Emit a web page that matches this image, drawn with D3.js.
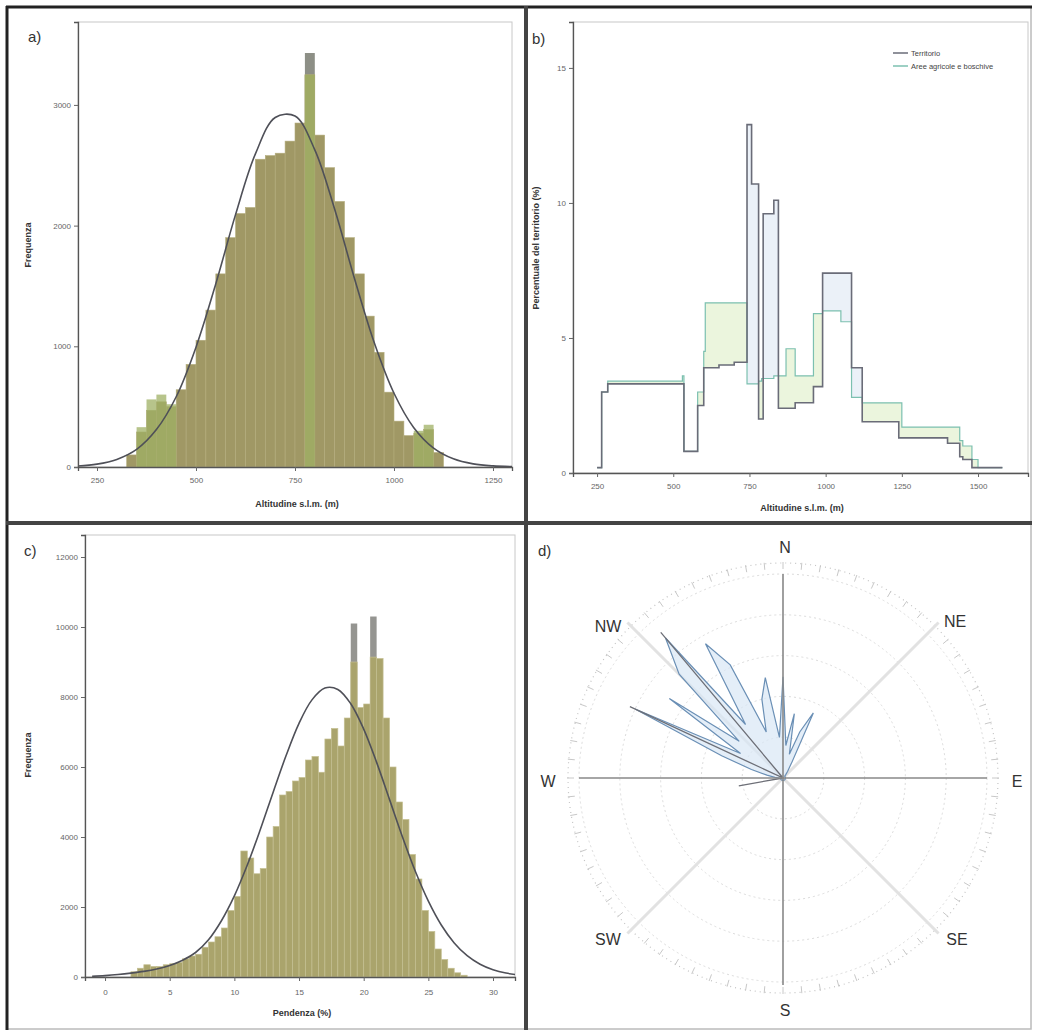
<!DOCTYPE html>
<html><head><meta charset="utf-8">
<script src="https://cdn.jsdelivr.net/npm/d3@7"></script>
<style>
html,body{margin:0;padding:0;background:#fff;}
svg{display:block;font-family:"Liberation Sans",Arial,sans-serif;}
</style></head>
<body>
<svg id="chart" width="1037" height="1034"></svg>
<script>
// ---------------- DATA ----------------
// Panel a: altitude histogram (bins of 25 m)
const aBinWidth = 25;
const aBinStart = [325,350,375,400,425,450,475,500,525,550,575,600,625,650,675,700,725,750,775,800,825,850,875,900,925,950,975,1000,1025,1050,1075,1100];
const aCounts   = [100,290,470,540,500,640,850,1050,1300,1600,1900,2100,2150,2550,2580,2600,2700,2850,3250,2750,2480,2200,1900,1600,1250,950,620,380,260,280,310,120];
const aGreenBins   = [350,375,400,425,775,1050,1075];
const aGreenCounts = [330,560,600,520,3250,300,350];
const aGrayBins    = [775];
const aGrayCounts  = [3430];
const aCurveX = [200,250,300,350,400,450,500,550,600,650,700,750,800,850,900,950,1000,1050,1100,1150,1200,1250,1300];
const aCurveY = [8,24,63,146,310,582,993,1518,2093,2594,2896,2908,2628,2137,1564,1031,611,326,157,68,26,9,3];
const aXTicks = [250,500,750,1000,1250];
const aYTicks = [0,1000,2000,3000];

// Panel b: two stepped series (altitude breakpoints)
const bAlt     = [250,265,285,530,535,580,600,605,650,700,742,757,780,790,795,830,845,870,900,960,990,1050,1085,1120,1240,1250,1400,1440,1450,1480,1500,1580];
const bTerr    = [0.2,3.0,3.3,3.3,0.8,2.5,3.9,3.9,4.0,4.1,12.9,10.7,2.0,2.0,9.6,10.1,2.4,2.4,2.6,3.2,7.4,7.4,3.9,1.9,1.3,1.3,1.1,0.6,0.5,0.2,0.2,0.2];
const bAgri    = [0.2,3.0,3.4,3.6,0.8,3.0,4.5,6.3,6.3,6.3,3.3,3.3,3.4,3.5,3.5,3.6,3.6,4.6,3.6,5.9,6.0,5.6,2.8,2.6,2.6,1.7,1.7,1.2,1.0,0.5,0.2,0.2];
const bXTicks = [250,500,750,1000,1250,1500];
const bYTicks = [0,5,10,15];
const bLegend = ["Territorio","Aree agricole e boschive"];

// Panel c: slope histogram (bins of 0.5)
const cBinWidth = 0.5;
const cBinStart = [2,2.5,3,3.5,4,4.5,5,5.5,6,6.5,7,7.5,8,8.5,9,9.5,10,10.5,11,11.5,12,12.5,13,13.5,14,14.5,15,15.5,16,16.5,17,17.5,18,18.5,19,19.5,20,20.5,21,21.5,22,22.5,23,23.5,24,24.5,25,25.5,26,26.5,27,27.5];
const cCounts   = [150,250,350,300,300,350,380,420,520,600,650,850,1000,1150,1400,1900,2300,3600,3400,2950,3100,4000,4300,5200,5300,5600,5700,6200,6300,5850,6800,7100,6600,7400,9000,7700,7800,9140,9100,7400,6000,5000,4500,3500,2800,1900,1300,800,500,250,120,50];
const cGrayBins   = [19,20.5];
const cGrayCounts = [10100,10300];
const cCurveX = [-1,0,1,2,3,4,5,6,7,8,9,10,11,12,13,14,15,16,17,18,19,20,21,22,23,24,25,26,27,28,29,30,31,32];
const cCurveY = [20,40,70,110,160,230,330,480,700,1064,1608,2317,3198,4207,5281,6328,7249,7918,8255,8217,7808,7083,6132,5068,4000,3013,2168,1487,974,609,364,207,112,59];
const cXTicks = [0,5,10,15,20,25,30];
const cYTicks = [0,2000,4000,6000,8000,10000,12000];

// Panel d: polar plot by bearing (degrees)
const dBearing = d3.range(0,360,5);
const dBlue = [12.4,4,8,3,6,8.8,2,1,0.5,0.3,0.3,0.3,0.3,0.3,0.3,0.3,0.3,0.3,0.3,0.3,0.3,0.3,0.3,0.3,0.3,0.3,0.3,0.3,0.3,0.3,0.3,0.3,0.3,0.3,0.3,0.3,0.3,0.3,0.3,0.3,0.3,0.3,0.3,0.3,0.3,0.3,0.3,0.3,0.3,0.3,0.3,0.3,0.3,0.3,0.5,1,2,4,8,20,6,17,7,18,22.4,8,19,15.3,6,10,12.5,5];
const dGray = [0,0,0,0,0,0,0,0,0,0,0,0,0,0,0,0,0,0,0,0,0,0,0,0,0,0,0,0,0,0,0,0,0,0,0,0,0,0,0,0,0,0,0,0,0,0,0,0,0,0,0,0,5.5,0,0,0,0,0,0,20.7,0,0,0,0,23.3,0,0,0,0,0,0,0];
const dRings = [5,10,15,20,25];
const dLabels = [["N",0],["NE",45],["E",90],["SE",135],["S",180],["SW",225],["W",270],["NW",315]];

// ---------------- DRAW ----------------
const svg = d3.select("#chart");
const FONT = "'Liberation Sans', Arial, sans-serif";
const fmt = d3.format("d");

// frame and dividers
svg.append("rect").attr("x",7).attr("y",7).attr("width",1024).attr("height",1022)
  .attr("fill","none").attr("stroke","#bbb").attr("stroke-width",1.5);
svg.append("line").attr("x1",6).attr("x2",1032).attr("y1",7).attr("y2",7).attr("stroke","#222").attr("stroke-width",3);
svg.append("line").attr("x1",7).attr("x2",7).attr("y1",6).attr("y2",1030).attr("stroke","#222").attr("stroke-width",3);
svg.append("line").attr("x1",526).attr("x2",526).attr("y1",6).attr("y2",1030).attr("stroke","#444").attr("stroke-width",4);
svg.append("line").attr("x1",6).attr("x2",1032).attr("y1",523).attr("y2",523).attr("stroke","#444").attr("stroke-width",4);

function panelLabel(t,x,y){
  svg.append("text").attr("x",x).attr("y",y).text(t).attr("font-size",15).attr("fill","#333").attr("font-family",FONT);
}
function styleAxis(g){
  g.selectAll("text").attr("font-size",8).attr("fill","#666").attr("font-family",FONT);
  g.selectAll("line").attr("stroke","#666");
  g.selectAll("path").attr("stroke","#555").attr("stroke-width",1.3);
}
function frame(x0,y0,x1,y1){
  svg.append("rect").attr("x",x0).attr("y",y0).attr("width",x1-x0).attr("height",y1-y0)
    .attr("fill","none").attr("stroke","#c8c8c8").attr("stroke-width",1);
}
function clip(id,x0,y0,x1,y1){
  svg.append("clipPath").attr("id",id).append("rect").attr("x",x0).attr("y",y0).attr("width",x1-x0).attr("height",y1-y0);
}

// ===== Panel a =====
{
  const L=78,R=512,T=22,B=467;
  const x = d3.scaleLinear().domain([202,1298]).range([L,R]);
  const y = d3.scaleLinear().domain([0,3687]).range([B,T]);
  frame(L,T,R,B); clip("clipA",L,T,R,B);
  const g = svg.append("g").attr("clip-path","url(#clipA)");
  g.selectAll("rect.gray").data(aGrayBins).join("rect")
    .attr("x",d=>x(d)).attr("width",d=>x(d+aBinWidth)-x(d))
    .attr("y",(d,i)=>y(aGrayCounts[i])).attr("height",(d,i)=>B-y(aGrayCounts[i])).attr("fill","#8d8f86");
  g.selectAll("rect.bar").data(aBinStart).join("rect")
    .attr("x",d=>x(d)).attr("width",d=>x(d+aBinWidth)-x(d))
    .attr("y",(d,i)=>y(aCounts[i])).attr("height",(d,i)=>B-y(aCounts[i]))
    .attr("fill","#a09865").attr("stroke","#b3ac7c").attr("stroke-width",0.6);
  g.selectAll("rect.green").data(aGreenBins).join("rect")
    .attr("x",d=>x(d)).attr("width",d=>x(d+aBinWidth)-x(d))
    .attr("y",(d,i)=>y(aGreenCounts[i])).attr("height",(d,i)=>B-y(aGreenCounts[i]))
    .attr("fill","#9fb064").attr("opacity",0.75);
  g.append("path").datum(aCurveX)
    .attr("d",d3.line().x(d=>x(d)).y((d,i)=>y(aCurveY[i])).curve(d3.curveCatmullRom))
    .attr("fill","none").attr("stroke","#4f5058").attr("stroke-width",1.6);
  const ax = svg.append("g").attr("transform",`translate(0,${B})`).call(d3.axisBottom(x).tickValues(aXTicks).tickFormat(fmt).tickSize(4).tickPadding(6));
  styleAxis(ax);
  const ay = svg.append("g").attr("transform",`translate(${L},0)`).call(d3.axisLeft(y).tickValues(aYTicks).tickFormat(fmt).tickSize(4));
  styleAxis(ay);
  svg.append("text").attr("x",297).attr("y",507).attr("text-anchor","middle").text("Altitudine s.l.m. (m)")
    .attr("font-size",9).attr("font-weight","bold").attr("fill","#333").attr("font-family",FONT);
  svg.append("text").attr("transform","translate(31,245) rotate(-90)").attr("text-anchor","middle").text("Frequenza")
    .attr("font-size",9).attr("font-weight","bold").attr("fill","#333").attr("font-family",FONT);
  panelLabel("a)",28,42);
}

// ===== Panel b =====
{
  const L=573,R=1028,T=22,B=473;
  const x = d3.scaleLinear().domain([171,1664]).range([L,R]);
  const y = d3.scaleLinear().domain([0,16.7]).range([B,T]);
  frame(L,T,R,B); clip("clipB",L,T,R,B);
  const g = svg.append("g").attr("clip-path","url(#clipB)");
  const idx = d3.range(bAlt.length);
  const areaGreen = d3.area().x(i=>x(bAlt[i])).y0(i=>y(bTerr[i])).y1(i=>y(Math.max(bTerr[i],bAgri[i]))).curve(d3.curveStepAfter);
  const areaBlue  = d3.area().x(i=>x(bAlt[i])).y0(i=>y(bAgri[i])).y1(i=>y(Math.max(bTerr[i],bAgri[i]))).curve(d3.curveStepAfter);
  g.append("path").datum(idx).attr("d",areaGreen).attr("fill","#e6f2d4").attr("opacity",0.8);
  g.append("path").datum(idx).attr("d",areaBlue).attr("fill","#e2ebf5").attr("opacity",0.7);
  g.append("path").datum(idx).attr("d",d3.line().x(i=>x(bAlt[i])).y(i=>y(bAgri[i])).curve(d3.curveStepAfter))
    .attr("fill","none").attr("stroke","#7cc0b0").attr("stroke-width",1.2);
  g.append("path").datum(idx).attr("d",d3.line().x(i=>x(bAlt[i])).y(i=>y(bTerr[i])).curve(d3.curveStepAfter))
    .attr("fill","none").attr("stroke","#6a6c78").attr("stroke-width",1.6);
  const ax = svg.append("g").attr("transform",`translate(0,${B})`).call(d3.axisBottom(x).tickValues(bXTicks).tickFormat(fmt).tickSize(4).tickPadding(6));
  styleAxis(ax);
  const ay = svg.append("g").attr("transform",`translate(${L},0)`).call(d3.axisLeft(y).tickValues(bYTicks).tickFormat(fmt).tickSize(4));
  styleAxis(ay);
  svg.append("text").attr("x",802).attr("y",511).attr("text-anchor","middle").text("Altitudine s.l.m. (m)")
    .attr("font-size",9).attr("font-weight","bold").attr("fill","#333").attr("font-family",FONT);
  svg.append("text").attr("transform","translate(539,248) rotate(-90)").attr("text-anchor","middle").text("Percentuale del territorio (%)")
    .attr("font-size",9).attr("font-weight","bold").attr("fill","#333").attr("font-family",FONT);
  const lg = svg.append("g");
  const lcol = ["#6a6c78","#7cc0b0"];
  bLegend.forEach((t,i)=>{
    lg.append("line").attr("x1",893).attr("x2",908).attr("y1",53+i*13).attr("y2",53+i*13).attr("stroke",lcol[i]).attr("stroke-width",1.5);
    lg.append("text").attr("x",911).attr("y",56+i*13).text(t).attr("font-size",7.5).attr("fill","#444").attr("font-family",FONT);
  });
  panelLabel("b)",532,44);
}

// ===== Panel c =====
{
  const L=85,R=515,T=535,B=977;
  const x = d3.scaleLinear().domain([-1.55,31.7]).range([L,R]);
  const y = d3.scaleLinear().domain([0,12629]).range([B,T]);
  frame(L,T,R,B); clip("clipC",L,T,R,B);
  const g = svg.append("g").attr("clip-path","url(#clipC)");
  g.selectAll("rect.gray").data(cGrayBins).join("rect")
    .attr("x",d=>x(d)).attr("width",d=>x(d+cBinWidth)-x(d))
    .attr("y",(d,i)=>y(cGrayCounts[i])).attr("height",(d,i)=>B-y(cGrayCounts[i])).attr("fill","#959591");
  g.selectAll("rect.bar").data(cBinStart).join("rect")
    .attr("x",d=>x(d)).attr("width",d=>x(d+cBinWidth)-x(d))
    .attr("y",(d,i)=>y(cCounts[i])).attr("height",(d,i)=>B-y(cCounts[i]))
    .attr("fill","#aaa46c").attr("stroke","#c4bf92").attr("stroke-width",0.7);
  g.append("path").datum(cCurveX)
    .attr("d",d3.line().x(d=>x(d)).y((d,i)=>y(cCurveY[i])).curve(d3.curveCatmullRom))
    .attr("fill","none").attr("stroke","#4f5058").attr("stroke-width",1.6);
  const ax = svg.append("g").attr("transform",`translate(0,${B})`).call(d3.axisBottom(x).tickValues(cXTicks).tickFormat(fmt).tickSize(4).tickPadding(8));
  styleAxis(ax);
  const ay = svg.append("g").attr("transform",`translate(${L},0)`).call(d3.axisLeft(y).tickValues(cYTicks).tickFormat(fmt).tickSize(4));
  styleAxis(ay);
  svg.append("text").attr("x",302).attr("y",1016).attr("text-anchor","middle").text("Pendenza (%)")
    .attr("font-size",9).attr("font-weight","bold").attr("fill","#333").attr("font-family",FONT);
  svg.append("text").attr("transform","translate(31,755) rotate(-90)").attr("text-anchor","middle").text("Frequenza")
    .attr("font-size",9).attr("font-weight","bold").attr("fill","#333").attr("font-family",FONT);
  panelLabel("c)",24,556);
}

// ===== Panel d =====
{
  const cx=783, cy=778;
  const r = d3.scaleLinear().domain([0,25]).range([0,204]);
  const g = svg.append("g").attr("transform",`translate(${cx},${cy})`);
  const rad = a => a*Math.PI/180;
  g.selectAll("circle.ring").data(dRings).join("circle").attr("r",d=>r(d))
    .attr("fill","none").attr("stroke","#dcdcdc").attr("stroke-width",1).attr("stroke-dasharray","2,3");
  g.append("circle").attr("r",215).attr("fill","none").attr("stroke","#c4c4c4").attr("stroke-width",1.2).attr("stroke-dasharray","1,4");
  const tick = d3.range(0,360,5);
  g.selectAll("line.tk").data(tick).join("line")
    .attr("x1",d=>Math.sin(rad(d))*209).attr("y1",d=>-Math.cos(rad(d))*209)
    .attr("x2",d=>Math.sin(rad(d))*216).attr("y2",d=>-Math.cos(rad(d))*216)
    .attr("stroke","#c8c8c8").attr("stroke-width",1);
  [45,135,225,315].forEach(a=>{
    g.append("line").attr("x1",0).attr("y1",0).attr("x2",Math.sin(rad(a))*220).attr("y2",-Math.cos(rad(a))*220)
      .attr("stroke","#e2e2e2").attr("stroke-width",3);
  });
  const polar = d3.lineRadial().angle((d,i)=>rad(dBearing[i])).radius(d=>r(d)).curve(d3.curveLinearClosed);
  g.append("path").datum(dBlue).attr("d",polar).attr("fill","#d8e7f5").attr("fill-opacity",0.7)
    .attr("stroke","#6a8fb5").attr("stroke-width",1.2);
  g.append("path").datum(dGray).attr("d",polar).attr("fill","none")
    .attr("stroke","#6d6f77").attr("stroke-width",1.3);
  g.append("line").attr("x1",-204).attr("x2",204).attr("y1",0).attr("y2",0).attr("stroke","#888").attr("stroke-width",1.6);
  g.append("line").attr("x1",0).attr("x2",0).attr("y1",-204).attr("y2",207).attr("stroke","#888").attr("stroke-width",1.6);
  const pos = {N:[2,-229],NE:[172,-155],E:[234,5],SE:[174,163],S:[2,234],SW:[-175,163],W:[-235,5],NW:[-175,-150]};
  dLabels.forEach(([t])=>{
    g.append("text").attr("x",pos[t][0]).attr("y",pos[t][1]).attr("text-anchor","middle").attr("dominant-baseline","middle")
      .text(t).attr("font-size",16).attr("fill","#333").attr("font-family",FONT);
  });
  panelLabel("d)",538,556);
}
</script>
</body></html>
